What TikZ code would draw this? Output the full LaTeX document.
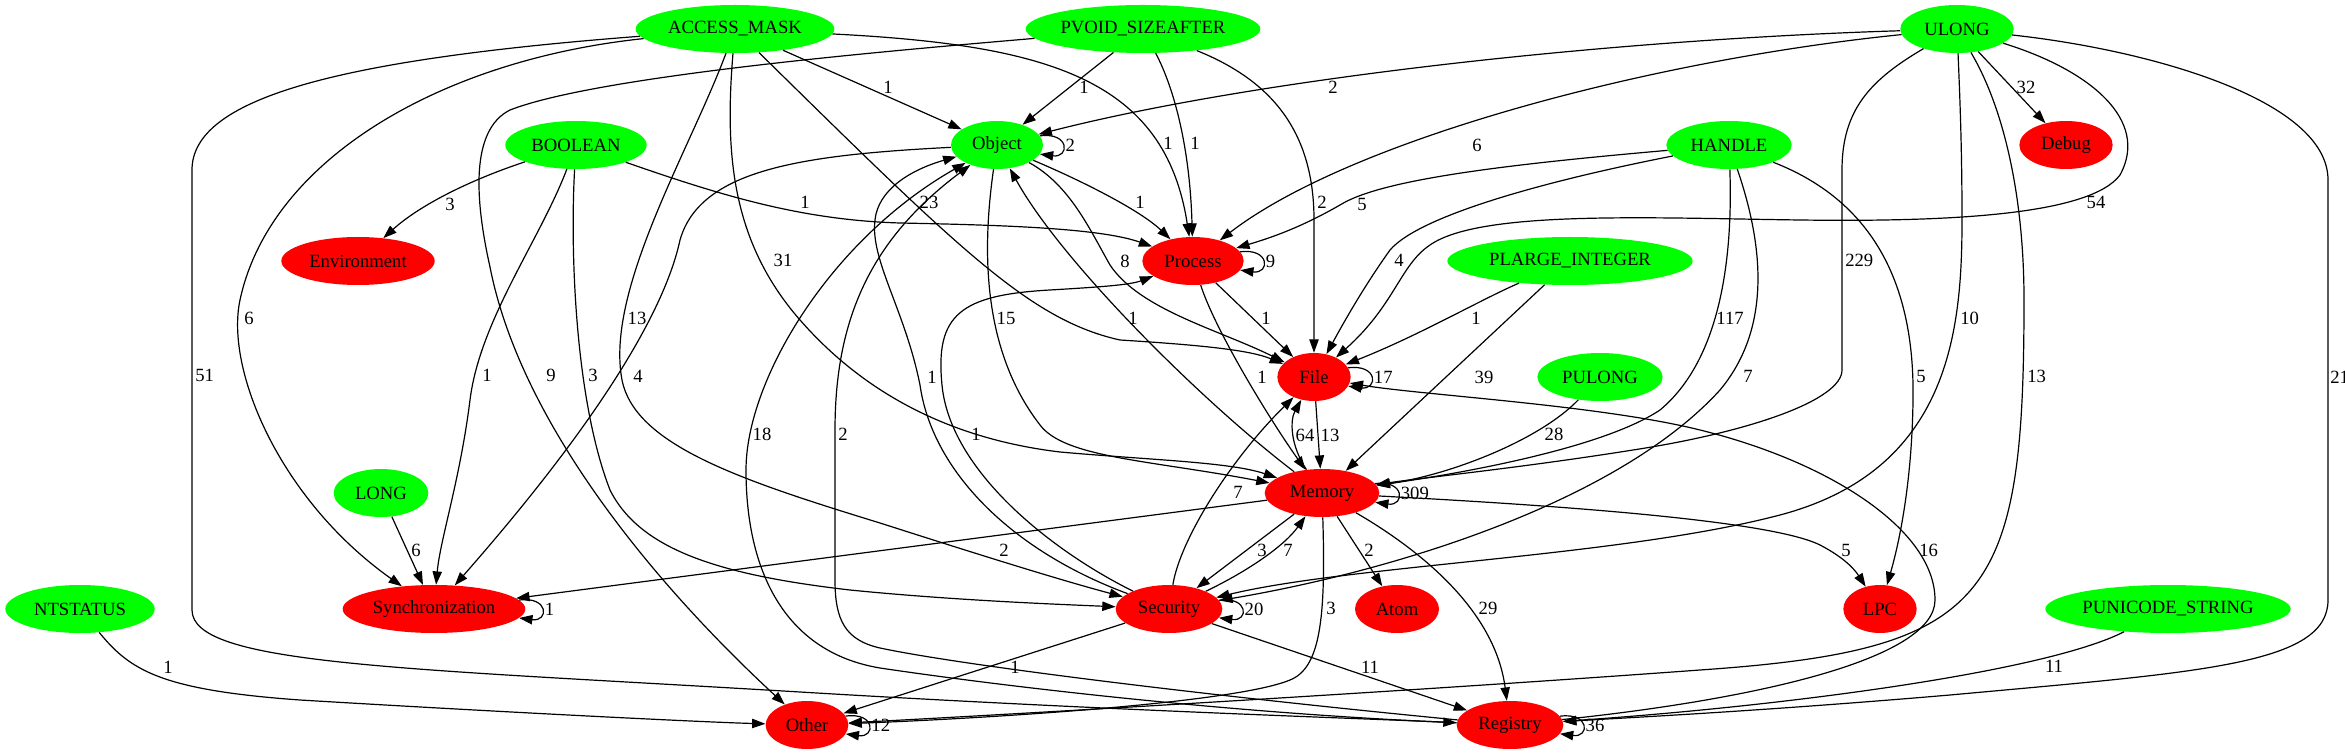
\documentclass[tikz,border=0pt]{standalone}
\usepackage{fontspec}
\setmainfont{Liberation Serif}
\usetikzlibrary{arrows.meta,shapes.geometric}

\definecolor{typegreen}{RGB}{0,255,0}
\definecolor{catred}{RGB}{255,0,0}

\tikzset{
  gvnode/.style={ellipse, inner sep=0pt, minimum height=36pt, font=\fontsize{14}{16}\selectfont},
  typenode/.style={gvnode, fill=typegreen},
  catnode/.style={gvnode, fill=catred},
  link/.style={draw, line width=0.9pt, -{Triangle[length=10pt,width=7pt]}},
  lbl/.style={font=\fontsize{14}{16}\selectfont, inner sep=2pt},
}

\begin{document}
\begin{tikzpicture}[x=0.75pt,y=-0.75pt]
  \useasboundingbox (0,0) rectangle (2345,755);

  % argument types
  \node[typenode, minimum width=149pt] (accessmask) at (735,29) {ACCESS\_MASK};
  \node[typenode, minimum width=176pt] (pvoid) at (1143,29) {PVOID\_SIZEAFTER};
  \node[typenode, minimum width=85pt] (ulong) at (1957,29) {ULONG};
  \node[typenode, minimum width=106pt] (boolean) at (576,145) {BOOLEAN};
  \node[typenode, minimum width=69pt] (object) at (997,145) {Object};
  \node[typenode, minimum width=94pt] (handle) at (1729,145) {HANDLE};
  \node[typenode, minimum width=184pt] (plarge) at (1570,261) {PLARGE\_INTEGER};
  \node[typenode, minimum width=94pt] (pulong) at (1600,377) {PULONG};
  \node[typenode, minimum width=71pt] (long) at (381,493) {LONG};
  \node[typenode, minimum width=112pt] (ntstatus) at (80,609) {NTSTATUS};
  \node[typenode, minimum width=184pt] (punicode) at (2168,609) {PUNICODE\_STRING};

  % categories
  \node[catnode, minimum width=70pt] (debug) at (2066,145) {Debug};
  \node[catnode, minimum width=115pt] (environment) at (358,261) {Environment};
  \node[catnode, minimum width=76pt] (process) at (1193,261) {Process};
  \node[catnode, minimum width=55pt] (file) at (1314,377) {File};
  \node[catnode, minimum width=86pt] (memory) at (1322,493) {Memory};
  \node[catnode, minimum width=137pt] (sync) at (434,609) {Synchronization};
  \node[catnode, minimum width=80pt] (security) at (1169,609) {Security};
  \node[catnode, minimum width=63pt] (atom) at (1397,609) {Atom};
  \node[catnode, minimum width=55pt] (lpc) at (1880,609) {LPC};
  \node[catnode, minimum width=62pt] (other) at (807,725) {Other};
  \node[catnode, minimum width=80pt] (registry) at (1510,725) {Registry};

  \foreach \a/\b/\lab/\x/\y in {accessmask/object/1/888/87, pvoid/object/1/1084/87, ulong/debug/32/2026/87,
      process/file/1/1266/318, file/memory/13/1330/435, plarge/memory/39/1484/377,
      memory/sync/2/1004/550, memory/security/3/1262/550, memory/atom/2/1369/550,
      long/sync/6/416/550, security/other/1/1015/667, security/registry/11/1370/667}{
    \draw[link] (\a) -- (\b) node[lbl] at (\x,\y) {\lab};
  }

  \foreach \nd/\ang/\lab in {object/12/2, process/11/9, file/15/17, memory/10/309, security/10/20, sync/6/1, other/13/12, registry/10/36}{
    \draw[link] (\nd.\ang) .. controls +(30,-4) and +(30,4) .. (\nd.-\ang) node[lbl, pos=0.5, anchor=west] {\lab};
  }

  % ACCESS_MASK
  \draw[link] (accessmask) .. controls (1050,45) and (1165,80) .. (process) node[lbl] at (1168,143) {1};
  \draw[link] (accessmask) .. controls (960,250) and (1030,320) .. (1120,340) .. controls (1200,345) and (1250,350) .. (file) node[lbl] at (929,202) {23};
  \draw[link] (accessmask) .. controls (725,150) and (730,240) .. (800,320) .. controls (870,400) and (960,440) .. (1060,452) .. controls (1150,460) and (1230,462) .. (memory) node[lbl] at (783,260) {31};
  \draw[link] (accessmask) .. controls (690,150) and (605,290) .. (622,380) .. controls (635,445) and (740,480) .. (880,523) .. controls (980,555) and (1060,580) .. (security) node[lbl] at (637,318) {13};
  \draw[link] (accessmask) .. controls (440,60) and (270,160) .. (240,300) .. controls (225,370) and (280,500) .. (sync) node[lbl] at (249,318) {6};
  \draw[link] (accessmask) .. controls (330,60) and (192,100) .. (192,170) -- (192,610) .. controls (192,665) and (400,668) .. (800,692) .. controls (1100,710) and (1350,718) .. (registry) node[lbl, anchor=west] at (192,375) {51};

  % PVOID_SIZEAFTER
  \draw[link] (pvoid) .. controls (1175,90) and (1190,150) .. (process) node[lbl] at (1195,143) {1};
  \draw[link] (pvoid) .. controls (1270,80) and (1314,130) .. (1314,220) -- (file) node[lbl, anchor=west] at (1314,202) {2};
  \draw[link] (pvoid) .. controls (900,50) and (600,75) .. (510,110) .. controls (470,130) and (475,200) .. (490,267) .. controls (520,420) and (650,580) .. (other) node[lbl] at (551,375) {9};

  % ULONG
  \draw[link] (ulong) .. controls (1600,40) and (1250,80) .. (object) node[lbl] at (1333,87) {2};
  \draw[link] (ulong) .. controls (1650,60) and (1350,140) .. (process) node[lbl] at (1477,145) {6};
  \draw[link] (ulong) .. controls (2090,70) and (2150,120) .. (2120,175) .. controls (2090,215) and (1950,222) .. (1800,220) .. controls (1650,218) and (1480,210) .. (1430,245) .. controls (1400,265) and (1395,305) .. (file) node[lbl] at (2096,202) {54};
  \draw[link] (ulong) .. controls (1870,80) and (1842,110) .. (1842,170) -- (1842,370) .. controls (1842,400) and (1750,432) .. (1633,450) .. controls (1520,468) and (1420,478) .. (memory) node[lbl, anchor=west] at (1842,260) {229};
  \draw[link] (ulong) .. controls (1960,100) and (1962,150) .. (1962,220) .. controls (1962,330) and (1950,470) .. (1780,515) .. controls (1620,557) and (1350,565) .. (security) node[lbl, anchor=west] at (1957,318) {10};
  \draw[link] (ulong) .. controls (2005,110) and (2024,200) .. (2024,300) .. controls (2024,600) and (1990,650) .. (1700,670) .. controls (1400,692) and (1000,715) .. (other) node[lbl, anchor=west] at (2024,376) {13};
  \draw[link] (ulong) .. controls (2150,50) and (2328,100) .. (2328,180) -- (2328,600) .. controls (2328,665) and (2200,672) .. (1950,695) .. controls (1750,712) and (1620,718) .. (registry) node[lbl, anchor=west] at (2327,377) {21};

  % BOOLEAN
  \draw[link] (boolean) .. controls (470,180) and (420,205) .. (environment) node[lbl] at (450,204) {3};
  \draw[link] (boolean) .. controls (720,195) and (800,220) .. (900,223) .. controls (1000,225) and (1100,228) .. (process) node[lbl] at (805,202) {1};
  \draw[link] (boolean) .. controls (540,240) and (480,320) .. (470,400) .. controls (460,480) and (440,540) .. (sync) node[lbl] at (487,375) {1};
  \draw[link] (boolean) .. controls (570,250) and (575,400) .. (610,490) .. controls (640,550) and (720,575) .. (850,590) .. controls (950,600) and (1050,604) .. (security) node[lbl] at (593,375) {3};

  % Object
  \draw[link] (object) .. controls (1080,180) and (1140,210) .. (process) node[lbl] at (1140,202) {1};
  \draw[link] (object) .. controls (1070,185) and (1090,230) .. (1110,265) .. controls (1140,310) and (1220,330) .. (file) node[lbl] at (1125,261) {8};
  \draw[link] (object) .. controls (982,250) and (982,350) .. (1040,425) .. controls (1065,458) and (1150,460) .. (memory) node[lbl] at (1006,318) {15};
  \draw[link] (object) .. controls (800,155) and (700,170) .. (680,240) .. controls (665,310) and (600,420) .. (sync) node[lbl] at (638,376) {4};

  % Process, Memory
  \draw[link] (process) .. controls (1215,330) and (1270,420) .. (memory) node[lbl] at (1262,377) {1};
  \draw[link] (memory) .. controls (1200,400) and (1060,260) .. (object) node[lbl] at (1133,318) {1};
  \draw[link] (memory) .. controls (1290,445) and (1290,420) .. (file) node[lbl] at (1305,435) {64};
  \draw[link] (memory) .. controls (1550,505) and (1770,520) .. (1820,545) .. controls (1845,558) and (1855,570) .. (lpc) node[lbl] at (1846,550) {5};
  \draw[link] (memory) .. controls (1326,620) and (1320,668) .. (1290,680) .. controls (1230,705) and (950,720) .. (other) node[lbl, anchor=west] at (1323,608) {3};
  \draw[link] (memory) .. controls (1420,550) and (1495,610) .. (registry) node[lbl] at (1488,608) {29};

  % Security
  \draw[link] (security) .. controls (1010,550) and (932,470) .. (920,385) .. controls (905,310) and (870,260) .. (875,220) .. controls (878,190) and (910,170) .. (object) node[lbl] at (932,377) {1};
  \draw[link] (security) .. controls (1050,550) and (950,470) .. (942,385) .. controls (935,315) and (960,295) .. (1050,290) .. controls (1100,287) and (1130,285) .. (process) node[lbl] at (976,434) {1};
  \draw[link] (security) .. controls (1180,540) and (1230,460) .. (file) node[lbl] at (1238,492) {7};
  \draw[link] (security) .. controls (1250,570) and (1285,545) .. (memory) node[lbl] at (1288,550) {7};

  % HANDLE
  \draw[link] (handle) .. controls (1500,165) and (1380,180) .. (1340,205) .. controls (1300,228) and (1270,238) .. (process) node[lbl] at (1362,204) {5};
  \draw[link] (handle) .. controls (1550,180) and (1420,215) .. (1390,250) .. controls (1365,285) and (1345,320) .. (file) node[lbl] at (1399,260) {4};
  \draw[link] (handle) .. controls (1733,260) and (1720,360) .. (1660,410) .. controls (1600,450) and (1450,475) .. (memory) node[lbl] at (1730,318) {117};
  \draw[link] (handle) .. controls (1765,250) and (1770,330) .. (1720,390) .. controls (1620,500) and (1400,570) .. (security) node[lbl] at (1748,376) {7};
  \draw[link] (handle) .. controls (1870,200) and (1915,280) .. (1913,400) .. controls (1912,480) and (1900,540) .. (lpc) node[lbl, anchor=west] at (1913,376) {5};

  % other sources
  \draw[link] (plarge) .. controls (1480,300) and (1420,335) .. (file) node[lbl] at (1476,318) {1};
  \draw[link] (pulong) .. controls (1540,440) and (1450,475) .. (memory) node[lbl] at (1554,434) {28};
  \draw[link] (ntstatus) .. controls (130,670) and (160,690) .. (300,700) .. controls (500,712) and (700,722) .. (other) node[lbl] at (168,667) {1};
  \draw[link] (punicode) .. controls (2050,670) and (1800,705) .. (registry) node[lbl] at (2054,666) {11};

  % Registry
  \draw[link] (registry) .. controls (1200,712) and (960,680) .. (880,668) .. controls (784,652) and (746,570) .. (746,470) .. controls (746,380) and (830,240) .. (object) node[lbl] at (762,434) {18};
  \draw[link] (registry) .. controls (1200,695) and (960,665) .. (880,648) .. controls (845,640) and (835,620) .. (835,580) -- (835,430) .. controls (835,320) and (870,240) .. (object) node[lbl, anchor=west] at (835,434) {2};
  \draw[link] (registry) .. controls (1750,700) and (1935,660) .. (1935,600) .. controls (1935,530) and (1830,462) .. (1700,430) .. controls (1600,405) and (1420,395) .. (file) node[lbl, anchor=west] at (1916,550) {16};

\end{tikzpicture}
\end{document}
